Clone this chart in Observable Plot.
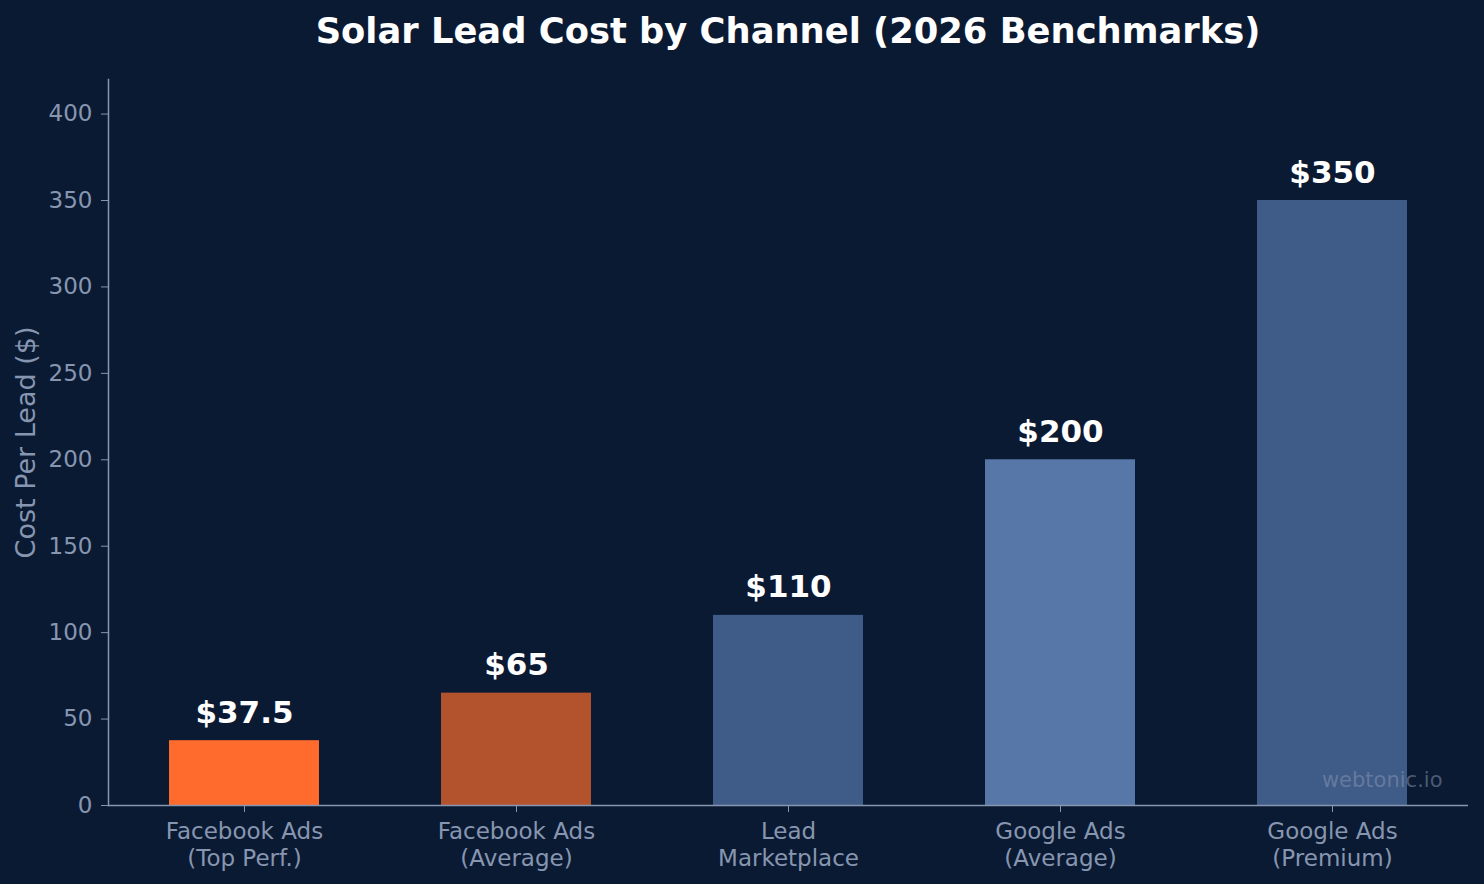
<!DOCTYPE html>
<html>
<head>
<meta charset="utf-8">
<script src="https://cdn.jsdelivr.net/npm/d3@7"></script>
<script src="https://cdn.jsdelivr.net/npm/@observablehq/plot@0.6"></script>
<style>
  html, body { margin: 0; padding: 0; background: #0b1a33; }
  #title {
    width: 1484px; box-sizing: border-box; padding-left: 92px;
    height: 62px; line-height: 62px; text-align: center;
    font-family: "DejaVu Sans", sans-serif; font-weight: bold; font-size: 35.3px; color: #ffffff;
  }
</style>
</head>
<body>
<div id="title">Solar Lead Cost by Channel (2026 Benchmarks)</div>
<div id="chart"></div>
<script>
const channels = [
  "Facebook Ads\n(Top Perf.)",
  "Facebook Ads\n(Average)",
  "Lead\nMarketplace",
  "Google Ads\n(Average)",
  "Google Ads\n(Premium)"
];
const costs = [37.5, 65, 110, 200, 350];
const barColors = ["#ff6b2c", "#b3532e", "#3f5b87", "#5677a8", "#3f5b87"];
const yTicks = [0, 50, 100, 150, 200, 250, 300, 350, 400];

const data = channels.map((c, i) => ({channel: c, cost: costs[i]}));
const axisColor = "#8796b0";

const chart = Plot.plot({
  width: 1484,
  height: 822,
  marginTop: 17,
  marginBottom: 79,
  marginLeft: 108,
  marginRight: 16,
  style: {background: "#0b1a33", color: axisColor, fontFamily: "DejaVu Sans, sans-serif", fontSize: "23px"},
  x: {domain: channels, paddingInner: 0.45, paddingOuter: 0.225},
  y: {domain: [0, 420]},
  color: {domain: channels, range: barColors},
  marks: [
    Plot.barY(data, {x: "channel", y: "cost", fill: "channel"}),
    Plot.frame({anchor: "left", stroke: axisColor, strokeWidth: 1.5}),
    Plot.ruleY([0], {stroke: axisColor, strokeWidth: 1.5}),
    Plot.axisY({ticks: yTicks, tickSize: 7, tickPadding: 9, fontSize: 23, label: null, stroke: axisColor}),
    Plot.axisX({tickSize: 7, tickPadding: 8, fontSize: 23, label: null, lineHeight: 1.15}),
    Plot.text(data, {x: "channel", y: "cost", text: d => "$" + d.cost, lineAnchor: "bottom", dy: -18,
      fill: "#ffffff", fontSize: 31, fontWeight: "bold"}),
    Plot.text(["Cost Per Lead ($)"], {frameAnchor: "left", textAnchor: "middle", rotate: -90, dx: -82, fontSize: 27, fill: axisColor}),
    Plot.text(["webtonic.io"], {frameAnchor: "bottom-right", textAnchor: "end", lineAnchor: "bottom", dx: -26, dy: -19,
      fontSize: 21, fill: "#8a9ab5", fillOpacity: 0.5})
  ]
});
document.getElementById("chart").appendChild(chart);
</script>
</body>
</html>
